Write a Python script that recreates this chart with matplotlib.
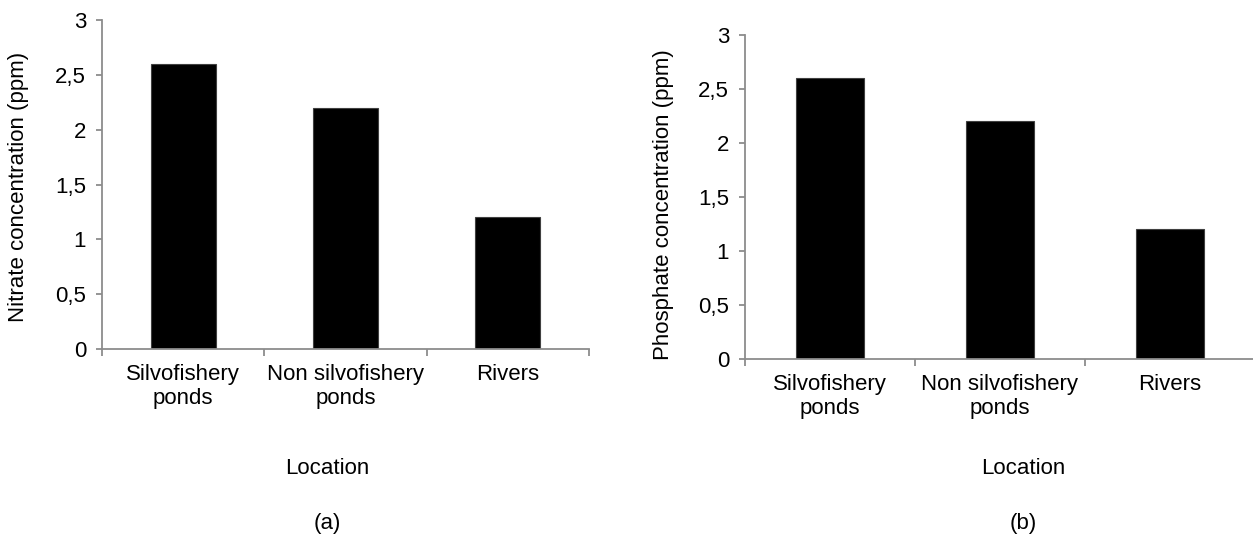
import matplotlib
matplotlib.use('Agg')
import matplotlib.pyplot as plt
from matplotlib.ticker import FuncFormatter, MultipleLocator, FixedLocator

plt.rcParams['font.family'] = ['Liberation Sans', 'DejaVu Sans']

# 資料
locations = ['Silvofishery\nponds', 'Non silvofishery\nponds', 'Rivers']
nitrate = [2.6, 2.2, 1.2]
phosphate = [2.6, 2.2, 1.2]

FS = 16
AXIS_COLOR = '#8c8c8c'

fig = plt.figure(figsize=(12.53, 5.35), dpi=100)
W, H = 1253, 535


def px_axes(x0, x1, y_top, y_bot):
    return fig.add_axes([x0 / W, 1 - y_bot / H, (x1 - x0) / W, (y_bot - y_top) / H])


def comma_fmt(v, pos):
    s = ('%g' % v).replace('.', ',')
    return s


def draw_panel(ax, values):
    x = list(range(len(locations)))
    ax.bar(x, values, width=0.4, color='black', edgecolor='#404040', linewidth=0.8, zorder=3)
    ax.set_xlim(-0.5, len(locations) - 0.5)
    ax.set_ylim(0, 3)
    ax.yaxis.set_major_locator(MultipleLocator(0.5))
    ax.yaxis.set_major_formatter(FuncFormatter(comma_fmt))
    ax.set_xticks(x)
    ax.set_xticklabels(locations, fontsize=FS, linespacing=1.2)
    ax.xaxis.set_minor_locator(FixedLocator([i - 0.5 for i in range(len(locations) + 1)]))
    ax.tick_params(axis='x', which='major', length=0, pad=10.5)
    ax.tick_params(axis='x', which='minor', length=5, width=1.3, color=AXIS_COLOR, direction='out')
    ax.tick_params(axis='y', length=4.5, width=1.3, color=AXIS_COLOR, direction='out',
                   labelsize=FS, pad=7)
    for side in ['top', 'right']:
        ax.spines[side].set_visible(False)
    for side in ['left', 'bottom']:
        ax.spines[side].set_color(AXIS_COLOR)
        ax.spines[side].set_linewidth(1.3)
        ax.spines[side].set_zorder(4)


# (a) Nitrate
ax1 = px_axes(102, 589, 20, 349)
draw_panel(ax1, nitrate)
fig.text(18.5 / W, 1 - 187 / H, 'Nitrate concentration (ppm)', rotation=90,
         ha='center', va='center', fontsize=FS)
fig.text(327.5 / W, 1 - 468 / H, 'Location', ha='center', va='center', fontsize=FS)
fig.text(327.5 / W, 1 - 523 / H, '(a)', ha='center', va='center', fontsize=FS)

# (b) Phosphate
ax2 = px_axes(745, 1255, 35, 359)
draw_panel(ax2, phosphate)
fig.text(663 / W, 1 - 205 / H, 'Phosphate concentration (ppm)', rotation=90,
         ha='center', va='center', fontsize=FS)
fig.text(1023 / W, 1 - 468 / H, 'Location', ha='center', va='center', fontsize=FS)
fig.text(1023 / W, 1 - 523 / H, '(b)', ha='center', va='center', fontsize=FS)

fig.savefig('out.png', dpi=100)
